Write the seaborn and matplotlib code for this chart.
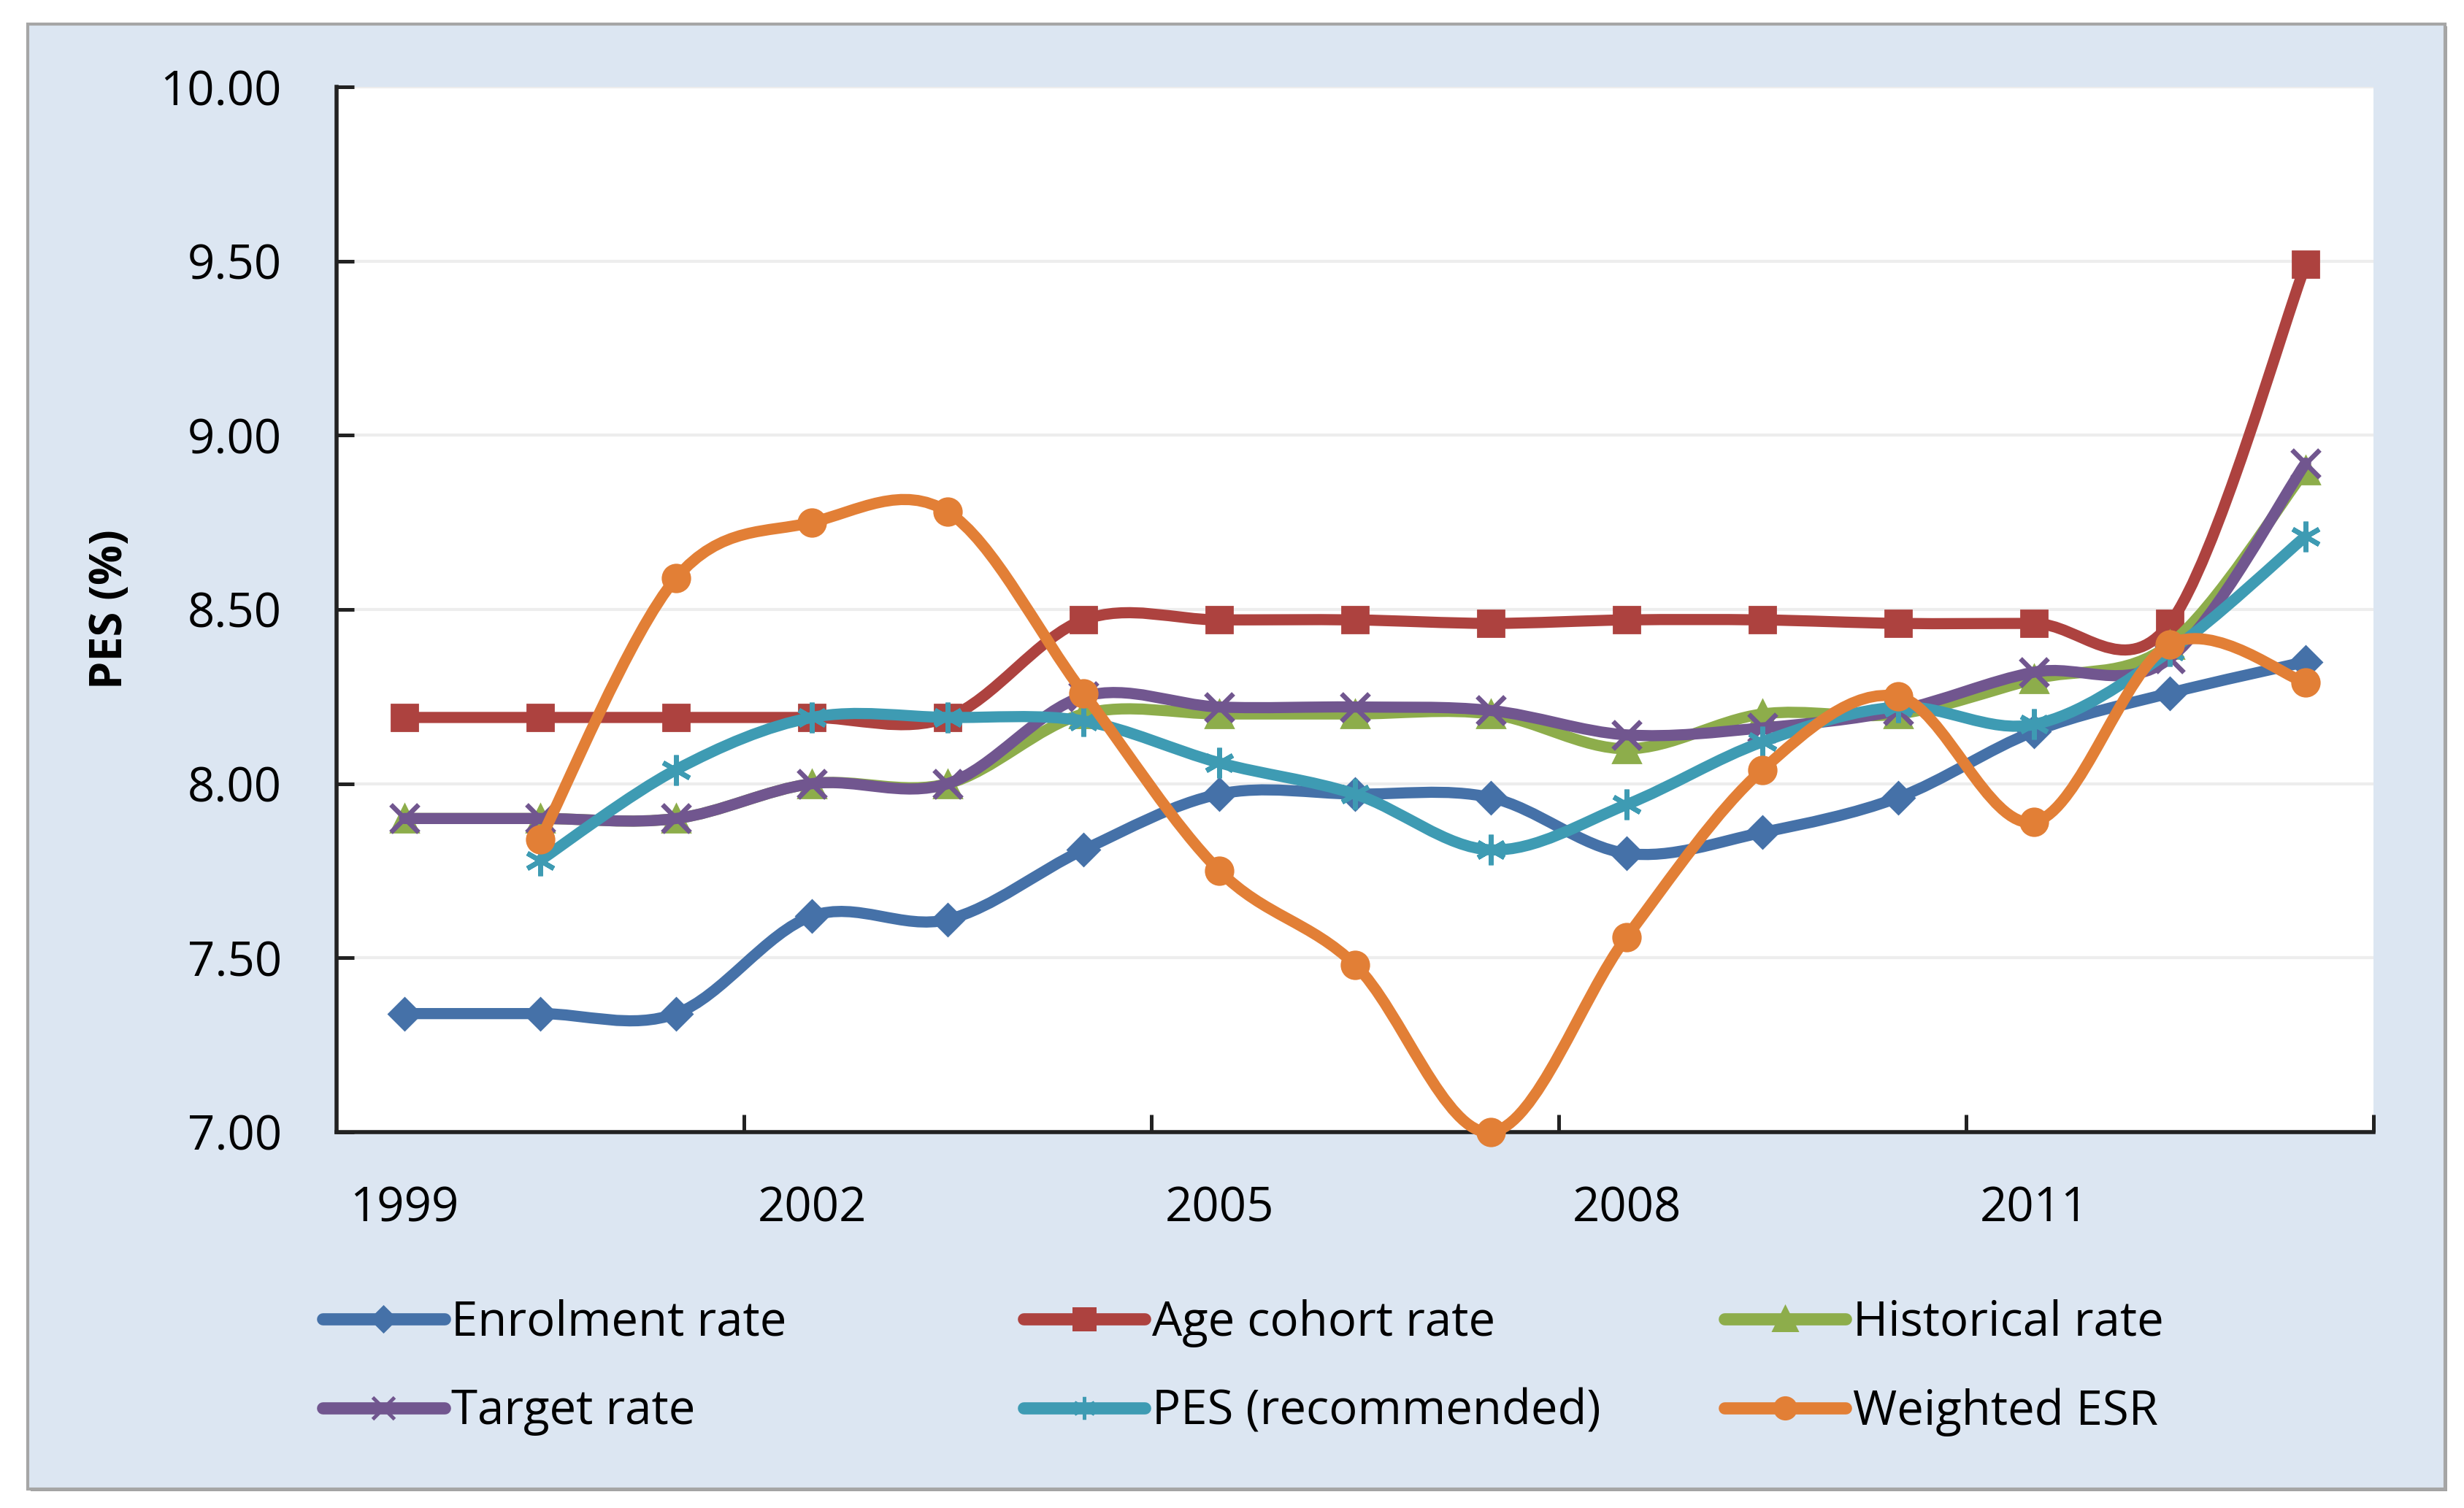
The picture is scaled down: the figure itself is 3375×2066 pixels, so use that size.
import numpy as np
import pandas as pd
import matplotlib
matplotlib.use("Agg")
import matplotlib.pyplot as plt
import seaborn as sns
from matplotlib.path import Path
from matplotlib.patches import PathPatch, Rectangle
from matplotlib.lines import Line2D

years = [1999, 2000, 2001, 2002, 2003, 2004, 2005, 2006, 2007, 2008, 2009, 2010, 2011, 2012, 2013]
tick_years = [1999, 2002, 2005, 2008, 2011]

enrolment = [7.34, 7.34, 7.34, 7.62, 7.61, 7.81, 7.97, 7.97, 7.96, 7.80, 7.86, 7.96, 8.15, 8.26, 8.35]
age_cohort = [8.19, 8.19, 8.19, 8.19, 8.19, 8.47, 8.47, 8.47, 8.46, 8.47, 8.47, 8.46, 8.46, 8.46, 9.49]
historical = [7.90, 7.90, 7.90, 8.00, 8.00, 8.20, 8.20, 8.20, 8.20, 8.10, 8.20, 8.20, 8.30, 8.40, 8.90]
target = [7.90, 7.90, 7.90, 8.00, 8.00, 8.25, 8.22, 8.22, 8.21, 8.14, 8.16, 8.21, 8.32, 8.36, 8.92]
pes_rec = [np.nan, 7.78, 8.04, 8.19, 8.19, 8.18, 8.06, 7.97, 7.81, 7.94, 8.12, 8.22, 8.17, 8.38, 8.71]
weighted_esr = [np.nan, 7.84, 8.59, 8.75, 8.78, 8.26, 7.75, 7.48, 7.00, 7.56, 8.04, 8.25, 7.89, 8.40, 8.29]

series_names = ["Enrolment rate", "Age cohort rate", "Historical rate",
                "Target rate", "PES (recommended)", "Weighted ESR"]
series_values = [enrolment, age_cohort, historical, target, pes_rec, weighted_esr]
colors = ["#4571A8", "#AD423F", "#8DAD4B", "#71568F", "#3E9BB3", "#E27F36"]
markers = ["D", "s", "^", "x", (6, 2, 0), "o"]
msizes = [11, 13, 14, 14, 15, 13.5]

df = pd.DataFrame({"year": years})
for name, vals in zip(series_names, series_values):
    df[name] = vals


def smooth_path(xs, ys):
    # excel-style smoothed line: catmull-rom as cubic bezier
    n = len(xs)
    verts = [(xs[0], ys[0])]
    codes = [Path.MOVETO]
    for i in range(n - 1):
        p0 = i - 1 if i > 0 else i
        p3 = i + 2 if i + 2 < n else i + 1
        c1 = (xs[i] + (xs[i + 1] - xs[p0]) / 6, ys[i] + (ys[i + 1] - ys[p0]) / 6)
        c2 = (xs[i + 1] - (xs[p3] - xs[i]) / 6, ys[i + 1] - (ys[p3] - ys[i]) / 6)
        verts += [c1, c2, (xs[i + 1], ys[i + 1])]
        codes += [Path.CURVE4] * 3
    return Path(verts, codes)


sns.set_theme(style="white")
plt.rcParams["font.family"] = ["Open Sans", "DejaVu Sans"]
plt.rcParams["text.color"] = "black"
plt.rcParams["axes.labelcolor"] = "black"

fig = plt.figure(figsize=(16.875, 10.33), dpi=200)
fig.patches.append(Rectangle((0.0123, 0.0112), 0.981, 0.9714, transform=fig.transFigure,
                             facecolor="#A0A0A0", edgecolor="none", zorder=-20))
fig.patches.append(Rectangle((0.0113, 0.0126), 0.981, 0.9714, transform=fig.transFigure,
                             facecolor="#DCE6F2", edgecolor="#A6A6A6", lw=1.5, zorder=-10))

ax = fig.add_axes([0.1366, 0.2493, 0.8267, 0.6931])
ax.set_facecolor("white")

for i, name in enumerate(series_names):
    sub = df[["year", name]].dropna()
    path = smooth_path(sub["year"].to_numpy(float), sub[name].to_numpy(float))
    ax.add_patch(PathPatch(path, fill=False, edgecolor=colors[i], lw=5.5,
                           capstyle="round", joinstyle="round",
                           transform=ax.transData, zorder=3 + i * 0.1, clip_on=False))
    sns.lineplot(data=sub, x="year", y=name, ax=ax, color=colors[i], marker=markers[i],
                 markersize=msizes[i], markeredgecolor=colors[i], markerfacecolor=colors[i],
                 markeredgewidth=2.4 if i in (3, 4) else 1, linestyle="", zorder=3.05 + i * 0.1,
                 clip_on=False)

ax.set_xlim(years[0] - 0.5, years[-1] + 0.5)
ax.set_ylim(7, 10)
ax.set_yticks(np.arange(7, 10.01, 0.5))
ax.set_yticklabels([f"{v:.2f}" for v in np.arange(7, 10.01, 0.5)])
ax.set_xticks(tick_years)
ax.set_xticklabels([str(y) for y in tick_years])
ax.set_xticks([years[0] - 0.5 + 3 * k for k in range(1, 6)], minor=True)

ax.tick_params(axis="x", which="major", length=0, pad=26, labelsize=23.5, labelcolor="black")
ax.tick_params(axis="x", which="minor", direction="in", length=8.5, width=1.8,
               color="#222222", bottom=True)
ax.tick_params(axis="y", direction="in", length=8.5, width=1.8, pad=27,
               labelsize=23.5, color="#222222", labelcolor="black", left=True)

ax.grid(axis="y", color="#EDEDED", lw=1.5)
ax.grid(axis="x", visible=False)
for side in ["top", "right"]:
    ax.spines[side].set_visible(False)
for side in ["left", "bottom"]:
    ax.spines[side].set_color("#222222")
    ax.spines[side].set_linewidth(2)

ax.set_xlabel("")
ax.set_ylabel("PES (%)", fontsize=22, fontweight="bold", color="black")
ax.yaxis.set_label_coords(-0.100, 0.5)

handles = [Line2D([], [], color=colors[i], lw=6, marker=markers[i], markersize=msizes[i] * 0.75,
                  markeredgecolor=colors[i], markeredgewidth=1.8, solid_capstyle="round")
           for i in range(len(series_names))]
col_x = [0.131, 0.4154, 0.6998]
for c in range(3):
    idx = [c, c + 3]
    fig.legend([handles[k] for k in idx], [series_names[k] for k in idx],
               loc="center left", bbox_to_anchor=(col_x[c], 0.0931), frameon=False,
               fontsize=23.5, handlelength=2.55, handletextpad=0.15, labelspacing=0.85,
               borderpad=0, borderaxespad=0, labelcolor="black")

fig.savefig("out.png", dpi=200)
